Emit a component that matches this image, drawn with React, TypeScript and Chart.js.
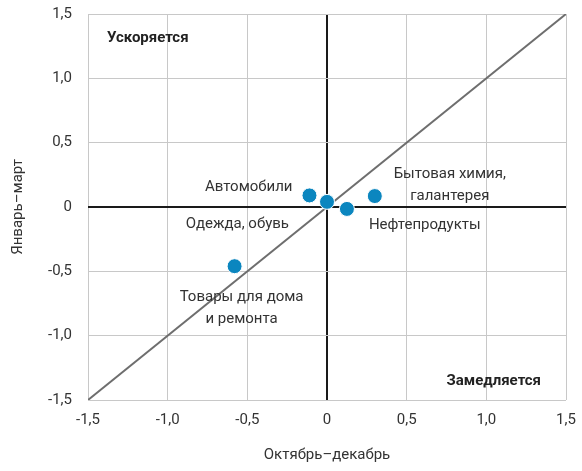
import React, { useEffect, useRef } from "react";
import { Chart, registerables } from "chart.js";

Chart.register(...registerables);

const categories = ["Автомобили", "Одежда, обувь", "Нефтепродукты", "Бытовая химия, галантерея", "Товары для дома и ремонта"];
const octDec = [-0.11, 0.0, 0.125, 0.3, -0.58];
const janMar = [0.09, 0.04, -0.015, 0.085, -0.46];
const tickValues = [-1.5, -1.0, -0.5, 0, 0.5, 1.0, 1.5];
const diagonal = [-1.5, 1.5];
const xTitle = "Октябрь–декабрь";
const yTitle = "Январь–март";
const quadrantTop = "Ускоряется";
const quadrantBottom = "Замедляется";

// label layout: lines, pixel offset from point, alignment
const labelLayout = [
  { lines: ["Автомобили"], dx: -17, dy: -8, align: "right" },
  { lines: ["Одежда, обувь"], dx: -38, dy: 22, align: "right" },
  { lines: ["Нефтепродукты"], dx: 22, dy: 16, align: "left" },
  { lines: ["Бытовая химия,", "галантерея"], dx: 75, dy: -22, align: "center" },
  { lines: ["Товары для дома", "и ремонта"], dx: 7, dy: 31, align: "center" },
];

const FONT = "Roboto, 'Open Sans', sans-serif";
const FS = 15;

const fmt = (v: number) => (v === 0 ? "0" : v.toFixed(1).replace(".", ","));

export default function App() {
  const ref = useRef<HTMLCanvasElement | null>(null);
  useEffect(() => {
    document.body.style.margin = "0";
    const labelsPlugin = {
      id: "labelsPlugin",
      afterDatasetsDraw(chart: any) {
        const ctx = chart.ctx;
        const xs = chart.scales.x;
        const ys = chart.scales.y;
        const area = chart.chartArea;
        ctx.save();
        ctx.fillStyle = "#333";
        ctx.font = `${FS}px ${FONT}`;
        ctx.textBaseline = "middle";
        labelLayout.forEach((l, i) => {
          const px = xs.getPixelForValue(octDec[i]);
          const py = ys.getPixelForValue(janMar[i]);
          ctx.textAlign = l.align;
          l.lines.forEach((t, j) => {
            ctx.fillText(t, px + l.dx, py + l.dy + j * 22);
          });
        });
        ctx.font = `bold ${FS}px ${FONT}`;
        ctx.fillStyle = "#222";
        ctx.textAlign = "left";
        ctx.fillText(quadrantTop, area.left + 19, area.top + 24);
        ctx.textAlign = "right";
        ctx.fillText(quadrantBottom, area.right - 25, area.bottom - 19);
        ctx.restore();
      },
    };
    const gridColor = (c: any) => (c.tick && c.tick.value === 0 ? "#1a1a1a" : "#c8c8c8");
    const gridWidth = (c: any) => (c.tick && c.tick.value === 0 ? 2 : 1);
    const chart = new Chart(ref.current!, {
      type: "scatter",
      data: {
        datasets: [
          {
            type: "scatter",
            data: octDec.map((x, i) => ({ x, y: janMar[i] })),
            backgroundColor: "#0b86bf",
            borderColor: "#ffffff",
            borderWidth: 1,
            pointRadius: 7.5,
            order: 1,
          },
          {
            type: "line",
            data: diagonal.map((v) => ({ x: v, y: v })),
            borderColor: "#6e6e6e",
            borderWidth: 2,
            pointRadius: 0,
            fill: false,
            order: 2,
          },
        ],
      },
      options: {
        animation: false,
        responsive: false,
        layout: { padding: { top: 14, right: 16, left: 9, bottom: 0 } },
        plugins: { legend: { display: false }, tooltip: { enabled: false } },
        scales: {
          x: {
            type: "linear",
            min: -1.5,
            max: 1.5,
            afterBuildTicks: (s: any) => {
              s.ticks = tickValues.map((v) => ({ value: v }));
            },
            afterFit: (s: any) => {
              s.height = 71;
              s.paddingLeft = 0;
              s.paddingRight = 0;
            },
            ticks: {
              callback: (v: any) => fmt(Number(v)),
              color: "#333",
              font: { family: FONT, size: FS },
              padding: 11,
              maxRotation: 0,
            },
            grid: { color: gridColor, lineWidth: gridWidth, drawTicks: false },
            border: { display: false },
            title: {
              display: true,
              text: xTitle,
              color: "#333",
              font: { family: FONT, size: FS },
              padding: { top: 8, bottom: 7 },
            },
          },
          y: {
            type: "linear",
            min: -1.5,
            max: 1.5,
            afterBuildTicks: (s: any) => {
              s.ticks = tickValues.map((v) => ({ value: v }));
            },
            afterFit: (s: any) => {
              s.width = 79;
              s.paddingTop = 0;
              s.paddingBottom = 0;
            },
            ticks: {
              callback: (v: any) => fmt(Number(v)),
              color: "#333",
              font: { family: FONT, size: FS },
              padding: 16,
            },
            grid: { color: gridColor, lineWidth: gridWidth, drawTicks: false },
            border: { display: false },
            title: {
              display: true,
              text: yTitle,
              color: "#333",
              font: { family: FONT, size: FS },
              padding: { top: 0, bottom: 18 },
            },
          },
        },
      },
      plugins: [labelsPlugin],
    } as any);
    return () => chart.destroy();
  }, []);
  return (
    <div style={{ width: 582, height: 471 }}>
      <canvas ref={ref} width={582} height={471} style={{ display: "block" }} />
    </div>
  );
}
